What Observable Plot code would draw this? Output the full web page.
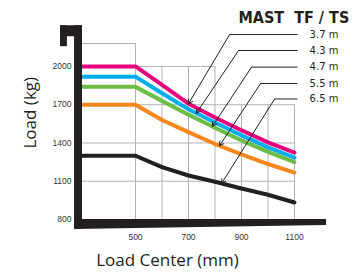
<!DOCTYPE html>
<html>
<head>
<meta charset="utf-8">
<script src="https://cdn.jsdelivr.net/npm/d3@7"></script>
<script src="https://cdn.jsdelivr.net/npm/@observablehq/plot@0.6"></script>
<style>
  html, body { margin: 0; padding: 0; background: #fff; }
</style>
</head>
<body>
<div id="chart"></div>
<script>
// ---- data ----
const loadCenters = [300, 500, 600, 700, 800, 900, 1000, 1100];
const mastNames = ["3.7 m", "4.3 m", "4.7 m", "5.5 m", "6.5 m"];
const mastColors = ["#e6007e", "#00aeef", "#6cbd45", "#f7861c", "#231f20"];
const load37 = [2000, 2000, 1855, 1708, 1600, 1500, 1405, 1325];
const load43 = [1920, 1920, 1790, 1665, 1560, 1460, 1365, 1285];
const load47 = [1840, 1840, 1730, 1622, 1520, 1420, 1330, 1250];
const load55 = [1700, 1700, 1580, 1485, 1392, 1310, 1235, 1168];
const load65 = [1300, 1300, 1210, 1145, 1096, 1043, 994, 933];
const xTicks = [500, 700, 900, 1100];
const yTicks = [800, 1100, 1400, 1700, 2000];
const title = "MAST  TF / TS";
const xLabel = "Load Center (mm)";
const yLabel = "Load (kg)";

// annotation anchors (data units)
const arrowTipX = [700, 730, 790, 817, 825];
const elbowX = [855, 889, 938, 972, 1025];
const labelY = [2250, 2125, 1995, 1866, 1745];
const leaderEndX = 1111;
const labelX = 1157;

// grid layout (stepped top)
const gridX = [500, 600, 700, 800, 900, 1000, 1100];
const gridXTop = [2180, 2000, 2000, 2000, 1700, 1700, 1700];
const gridY = [1100, 1400, 1700, 2000, 2180];
const gridYStart = [300, 300, 300, 500, 300];
const gridYEnd = [1100, 1100, 1100, 800, 500];

const allLoads = [load37, load43, load47, load55, load65];
const rows = [];
allLoads.forEach((arr, s) => arr.forEach((v, i) => rows.push({mast: mastNames[s], x: loadCenters[i], y: v})));

const annos = mastNames.map((m, i) => {
  const arr = allLoads[i];
  const tx = arrowTipX[i];
  let ty = arr[arr.length - 1];
  for (let k = 0; k < loadCenters.length - 1; k++) {
    if (tx >= loadCenters[k] && tx <= loadCenters[k + 1]) {
      const t = (tx - loadCenters[k]) / (loadCenters[k + 1] - loadCenters[k]);
      ty = arr[k] + t * (arr[k + 1] - arr[k]);
    }
  }
  return {mast: m, tx, ty, ex: elbowX[i], ly: labelY[i]};
});

const vGrid = gridX.map((x, i) => ({x, top: gridXTop[i]}));
const hGrid = gridY.map((y, i) => ({y, x1: gridYStart[i], x2: gridYEnd[i]}));

// decorative frame pieces (data units)
const frameRects = [
  {x1: 270, x2: 300, y1: 722, y2: 2319},
  {x1: 217, x2: 300, y1: 2233, y2: 2319},
  {x1: 217, x2: 243, y1: 2155, y2: 2319}
];
const bottomBar = [
  {x: 270, y1: 722, y2: 800},
  {x: 1221, y1: 753, y2: 800}
];

const plot = Plot.plot({
  width: 353,
  height: 274,
  marginLeft: 82,
  marginRight: 59,
  marginTop: 43,
  marginBottom: 55,
  x: {domain: [300, 1100]},
  y: {domain: [800, 2180]},
  color: {domain: mastNames, range: mastColors},
  style: {fontFamily: "Liberation Sans, Arial, sans-serif", background: "#fff"},
  marks: [
    Plot.ruleX(vGrid, {x: "x", y1: 800, y2: "top", stroke: "#b3b3b3", strokeWidth: 1}),
    Plot.ruleY(hGrid, {y: "y", x1: "x1", x2: "x2", stroke: "#b3b3b3", strokeWidth: 1}),
    Plot.line(rows, {x: "x", y: "y", z: "mast", stroke: "mast", strokeWidth: 4, curve: "linear"}),
    Plot.rect(frameRects, {x1: "x1", x2: "x2", y1: "y1", y2: "y2", fill: "#231f20"}),
    Plot.areaY(bottomBar, {x: "x", y1: "y1", y2: "y2", fill: "#231f20"}),
    Plot.link(annos, {x1: "ex", y1: "ly", x2: leaderEndX, y2: "ly", stroke: "#231f20", strokeWidth: 1}),
    Plot.arrow(annos, {x1: "ex", y1: "ly", x2: "tx", y2: "ty", stroke: "#231f20", strokeWidth: 1, headLength: 7, bend: 0}),
    Plot.text(annos, {x: labelX, y: "ly", text: "mast", textAnchor: "start", fontSize: 10, fill: "#231f20", fontFamily: "DejaVu Sans"}),
    Plot.axisX({ticks: xTicks, tickFormat: d => String(d), tickSize: 0, tickPadding: 14, fontSize: 8.5, label: null, color: "#333"}),
    Plot.axisY({ticks: yTicks, tickFormat: d => String(d), tickSize: 0, tickPadding: 11, fontSize: 8.5, label: null, color: "#333"}),
    Plot.text([title], {frameAnchor: "top-left", dx: 156, dy: -26, text: d => d, textAnchor: "start", lineAnchor: "middle", fontSize: 16, fontWeight: "bold", fontFamily: "DejaVu Sans Condensed, Liberation Sans Narrow, sans-serif", fill: "#231f20"}),
    Plot.text([xLabel], {frameAnchor: "bottom", dx: -21, dy: 41, text: d => d, lineAnchor: "middle", fontSize: 17, fontFamily: "Open Sans, sans-serif", fill: "#231f20"}),
    Plot.text([yLabel], {frameAnchor: "left", dx: -52, dy: 17, rotate: -90, text: d => d, lineAnchor: "middle", fontSize: 17, fontFamily: "Open Sans, sans-serif", fill: "#231f20"})
  ]
});
document.getElementById("chart").appendChild(plot);
</script>
</body>
</html>
